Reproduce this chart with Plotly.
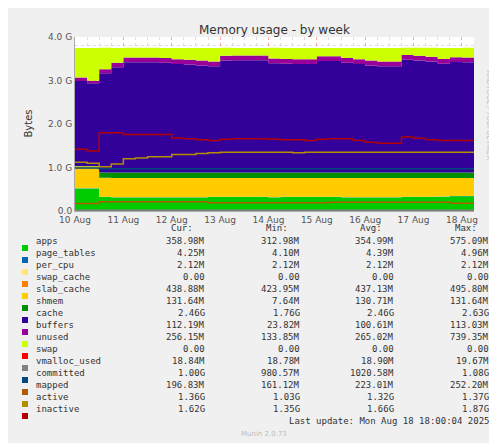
import plotly.graph_objects as go
import pandas as pd

times = list(pd.date_range("2025-08-10 00:00", periods=34, freq="6h"))
G = 1e9
apps        = [0.52,0.52,0.32,0.31,0.31,0.31,0.31,0.31,0.31,0.31,0.31,0.32,0.32,0.32,0.32,0.32,0.31,0.32,0.32,0.32,0.32,0.32,0.31,0.31,0.31,0.31,0.31,0.32,0.32,0.32,0.33,0.34,0.34,0.34]
page_tables = [0.005]*34
per_cpu     = [0.002]*34
swap_cache  = [0.0]*34
slab_cache  = [0.50,0.50,0.44,0.44,0.44,0.44,0.44,0.44,0.44,0.44,0.44,0.43,0.43,0.43,0.43,0.43,0.44,0.43,0.43,0.43,0.43,0.43,0.44,0.44,0.44,0.44,0.44,0.43,0.43,0.43,0.42,0.41,0.41,0.41]
shmem       = [0.01,0.01,0.12,0.13,0.13,0.13,0.13,0.13,0.13,0.13,0.13,0.13,0.13,0.13,0.13,0.13,0.13,0.13,0.13,0.13,0.13,0.13,0.13,0.13,0.13,0.13,0.13,0.13,0.13,0.13,0.13,0.13,0.13,0.13]
cache       = [1.95,1.90,2.28,2.42,2.53,2.53,2.53,2.52,2.49,2.48,2.46,2.44,2.57,2.58,2.58,2.58,2.51,2.50,2.49,2.49,2.56,2.56,2.52,2.49,2.46,2.44,2.44,2.59,2.57,2.55,2.50,2.54,2.53,2.53]
buffers     = [0.08,0.06,0.09,0.10,0.11,0.11,0.11,0.11,0.11,0.11,0.11,0.11,0.11,0.11,0.11,0.11,0.11,0.11,0.11,0.11,0.11,0.11,0.11,0.11,0.11,0.11,0.11,0.11,0.11,0.11,0.11,0.11,0.11,0.11]
total_mem   = [3.75]*34
swap        = [0.0]*34
vmalloc_used= [0.019]*34
committed   = [0.99,0.99,0.97,0.97,0.97,0.97,0.97,0.97,0.97,0.97,0.97,0.97,0.97,0.97,0.97,0.97,0.97,0.97,0.97,0.97,0.97,0.97,0.97,0.97,0.97,0.97,0.97,0.97,0.97,0.97,0.97,0.97,0.97,0.97]
mapped      = [0.17,0.17,0.21,0.21,0.21,0.21,0.21,0.21,0.21,0.21,0.21,0.19,0.19,0.19,0.19,0.19,0.19,0.19,0.19,0.19,0.19,0.20,0.20,0.20,0.20,0.20,0.20,0.20,0.20,0.20,0.20,0.18,0.18,0.18]
active      = [1.12,1.10,1.02,1.08,1.20,1.22,1.25,1.25,1.30,1.30,1.32,1.34,1.35,1.35,1.35,1.35,1.35,1.35,1.34,1.35,1.35,1.35,1.35,1.35,1.35,1.35,1.35,1.35,1.35,1.35,1.35,1.35,1.35,1.35]
inactive    = [1.42,1.38,1.80,1.80,1.76,1.76,1.76,1.76,1.68,1.66,1.64,1.62,1.65,1.66,1.66,1.66,1.65,1.64,1.64,1.62,1.65,1.66,1.66,1.62,1.58,1.56,1.56,1.70,1.67,1.64,1.62,1.62,1.62,1.62]

stack_names = ["apps","page_tables","per_cpu","swap_cache","slab_cache","shmem","cache","buffers","unused"]
line_names = ["swap","vmalloc_used","committed","mapped","active","inactive"]
colors = {"apps":"#00CC00","page_tables":"#0066B3","per_cpu":"#FFE680","swap_cache":"#FF8000",
          "slab_cache":"#FFCC00","shmem":"#008F00","cache":"#330099","buffers":"#990099",
          "unused":"#CCFF00","swap":"#FF0000","vmalloc_used":"#808080","committed":"#00487D",
          "mapped":"#B35A00","active":"#B38F00","inactive":"#B30000"}
cur = ["358.98M","4.25M","2.12M","0.00","438.88M","131.64M","2.46G","112.19M","256.15M","0.00","18.84M","1.00G","196.83M","1.36G","1.62G"]
mn  = ["312.98M","4.10M","2.12M","0.00","423.95M","7.64M","1.76G","23.82M","133.85M","0.00","18.78M","980.57M","161.12M","1.03G","1.35G"]
avg = ["354.99M","4.39M","2.12M","0.00","437.13M","130.71M","2.46G","100.61M","265.02M","0.00","18.90M","1020.58M","223.01M","1.32G","1.66G"]
mx  = ["575.09M","4.96M","2.12M","0.00","495.80M","131.64M","2.63G","113.03M","739.35M","0.00","19.67M","1.08G","252.20M","1.37G","1.87G"]

used = [a+b+c+d+e+f+g+h for a,b,c,d,e,f,g,h in zip(apps,page_tables,per_cpu,swap_cache,slab_cache,shmem,cache,buffers)]
unused = [t-u for t,u in zip(total_mem, used)]
series = {"apps":apps,"page_tables":page_tables,"per_cpu":per_cpu,"swap_cache":swap_cache,
          "slab_cache":slab_cache,"shmem":shmem,"cache":cache,"buffers":buffers,"unused":unused,
          "swap":swap,"vmalloc_used":vmalloc_used,"committed":committed,"mapped":mapped,
          "active":active,"inactive":inactive}

fig = go.Figure()
for n in stack_names:
    fig.add_trace(go.Scatter(x=times, y=[v*G for v in series[n]], stackgroup="s", mode="lines",
                             line=dict(width=0, shape="hv", color=colors[n]), fillcolor=colors[n], name=n))
for n in line_names:
    fig.add_trace(go.Scatter(x=times, y=[v*G for v in series[n]], mode="lines",
                             line=dict(width=1.5, shape="hv", color=colors[n]), name=n))

L, R, T, B = 67, 466, 29, 203
def px(x): return (x-L)/(R-L)
def py(y): return (B-y)/(B-T)

mono = "DejaVu Sans Mono"
ann = [dict(text="Memory usage - by week", x=px(266), y=py(13), xref="paper", yref="paper",
            showarrow=False, font=dict(family="DejaVu Sans", size=12, color="#333")),
       dict(text="Bytes", x=px(12), y=py(116), xref="paper", yref="paper", textangle=-90,
            showarrow=False, font=dict(family="DejaVu Sans", size=10, color="#333")),
       dict(text="RRDTOOL / TOBI OETIKER", x=px(487), y=py(60), xref="paper", yref="paper", textangle=90,
            showarrow=False, font=dict(family="DejaVu Sans", size=7, color="#bbb"))]
shapes = []
for cx, lab in [(199,"Cur:"),(294,"Min:"),(388,"Avg:"),(483,"Max:")]:
    ann.append(dict(text=lab, x=px(cx-12), y=py(227), xref="paper", yref="paper", xanchor="right",
                    showarrow=False, font=dict(family=mono, size=9, color="#333")))
names = stack_names + line_names
for i, n in enumerate(names):
    yy = 240 + 12*i
    shapes.append(dict(type="rect", xref="paper", yref="paper", x0=px(14), x1=px(20), y0=py(yy+3), y1=py(yy-3),
                       fillcolor=colors[n], line=dict(width=0)))
    ann.append(dict(text=n, x=px(26), y=py(yy), xref="paper", yref="paper", xanchor="left",
                    showarrow=False, font=dict(family=mono, size=9, color="#333")))
    for cx, arr in [(199,cur),(294,mn),(388,avg),(483,mx)]:
        ann.append(dict(text=arr[i], x=px(cx), y=py(yy), xref="paper", yref="paper", xanchor="right",
                        showarrow=False, font=dict(family=mono, size=9, color="#333")))
ann.append(dict(text="Last update: Mon Aug 18 18:00:04 2025", x=px(483), y=py(420), xref="paper", yref="paper",
                xanchor="right", showarrow=False, font=dict(family=mono, size=9, color="#333")))
ann.append(dict(text="Munin 2.0.73", x=px(256), y=py(432), xref="paper", yref="paper",
                showarrow=False, font=dict(family="DejaVu Sans", size=7, color="#bbb")))

fig.update_layout(width=497, height=443, margin=dict(l=L, r=497-R, t=T, b=443-B, autoexpand=False),
                  paper_bgcolor="#F0F0F0", plot_bgcolor="white", showlegend=False,
                  annotations=ann, shapes=shapes)
fig.update_xaxes(range=[pd.Timestamp("2025-08-10 00:00"), pd.Timestamp("2025-08-18 06:00")],
                 tickformat="%d %b", dtick=86400000, tick0="2025-08-10", automargin=False,
                 tickfont=dict(family="DejaVu Sans", size=9, color="#555"),
                 showgrid=True, gridcolor="rgba(255,0,0,0.35)", griddash="dot", gridwidth=1,
                 minor=dict(dtick=21600000, showgrid=True, gridcolor="rgba(200,200,200,0.6)", griddash="dot"),
                 showline=True, linecolor="#aaa", ticks="", zeroline=False)
fig.update_yaxes(range=[0, 4e9], tickvals=[0,1e9,2e9,3e9,4e9], ticktext=["0.0","1.0 G","2.0 G","3.0 G","4.0 G"],
                 automargin=False,
                 tickfont=dict(family="DejaVu Sans", size=9, color="#555"),
                 showgrid=True, gridcolor="rgba(255,0,0,0.35)", griddash="dot",
                 minor=dict(dtick=2e8, showgrid=True, gridcolor="rgba(200,200,200,0.6)", griddash="dot"),
                 showline=True, linecolor="#aaa", zeroline=False)
fig.write_html("out.html")
